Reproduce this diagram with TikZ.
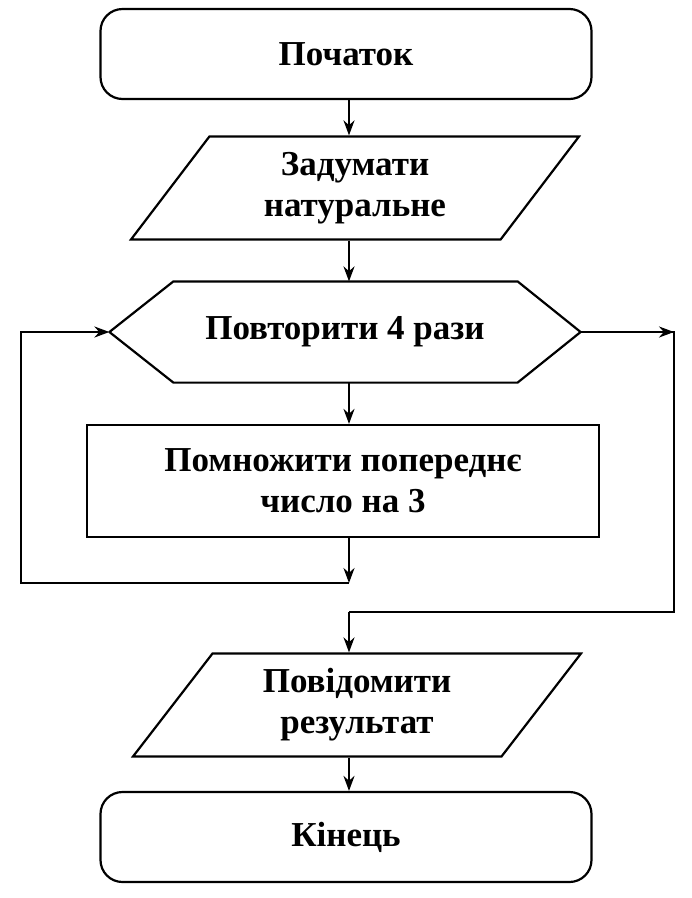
\documentclass[tikz,border=0pt]{standalone}
\usepackage{fontspec}
\setmainfont{Liberation Serif}
\usetikzlibrary{arrows.meta,shapes.geometric}

\begin{document}
\begin{tikzpicture}[x=1pt,y=-1pt,
    every node/.style={font=\fontsize{35}{41}\selectfont\bfseries,align=center,line width=2.2pt},
    term/.style={draw,rounded corners=22pt,minimum width=491pt,minimum height=90pt},
    io/.style={draw,trapezium,trapezium left angle=45,trapezium right angle=135,
               trapezium stretches body,minimum width=448pt,minimum height=103pt},
    proc/.style={draw,minimum width=512pt,minimum height=112pt},
    flow/.style={line width=2.2pt,-{Stealth[length=15pt,width=11pt]}},
    line/.style={line width=2.2pt}]
    \useasboundingbox (0,0) rectangle (692,898);

    \node[term] (start) at (346,54) {Початок};
    \node[io] (input) at (355,188) {Задумати\\натуральне};
    \node[minimum width=469pt,minimum height=99pt] (loop) at (345,332) {Повторити 4 рази};
    \node[proc] (mult) at (343,481) {Помножити попереднє\\число на 3};
    \node[io] (output) at (357,705) {Повідомити\\результат};
    \node[term] (stop) at (346,837) {Кінець};

    % hexagon outline
    \draw[line,line join=round] (loop.west) -- ([xshift=64pt]loop.north west) -- ([xshift=-63pt]loop.north east)
        -- (loop.east) -- ([xshift=-63pt]loop.south east) -- ([xshift=64pt]loop.south west) -- cycle;

    \coordinate (back) at (349,583);
    \coordinate (exit) at (349,612);

    \draw[flow] (start.south -| 349,0) -- (input.north -| 349,0);
    \draw[flow] (input.south -| 349,0) -- (loop.north -| 349,0);
    \draw[flow] (loop.south -| 349,0) -- (mult.north -| 349,0);
    \draw[flow] (mult.south -| 349,0) -- (back);
    \draw[flow] (back) -- (21,583) -- (21,332) -- (loop.west);
    \draw[line] (loop.east) -- (674,332) -- (674,612) -- (exit);
    \draw[flow] (loop.east) -- (674,332);
    \draw[flow] (exit) -- (output.north -| 349,0);
    \draw[flow] (output.south -| 349,0) -- (stop.north -| 349,0);
\end{tikzpicture}
\end{document}
